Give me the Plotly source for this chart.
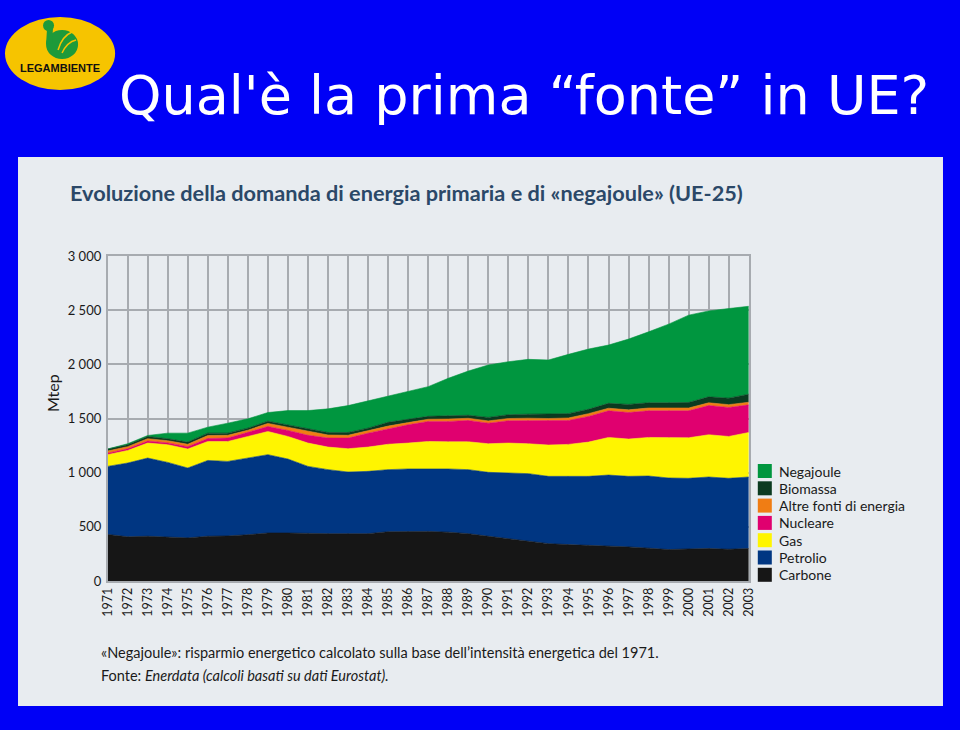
import plotly.graph_objects as go

W, H = 960, 730
# the rendered paper area is inset by ~8 px on every side; map pixel positions onto it
OX, OY = 8, 8
PW, PH = W - 2 * OX, H - 2 * OY

years = list(range(1971, 2004))
carbone = [430, 408, 413, 405, 398, 413, 416, 427, 443, 443, 437, 437, 437, 437, 455,
           458, 458, 451, 437, 413, 392, 367, 345, 336, 330, 327, 315, 303, 290, 296, 300, 293, 300]
petrolio = [628, 681, 722, 690, 645, 700, 688, 708, 723, 683, 621, 591, 569, 575, 573,
            576, 579, 583, 591, 590, 605, 624, 621, 633, 636, 651, 651, 666, 661, 652, 660, 655, 660]
gas = [108, 116, 138, 163, 175, 175, 184, 199, 214, 208, 215, 208, 215, 224, 234,
       239, 251, 251, 257, 264, 276, 276, 289, 292, 316, 347, 344, 356, 371, 374, 390, 386, 411]
nucleare = [14, 15, 19, 17, 22, 27, 32, 36, 46, 56, 72, 84, 98, 129, 143,
            169, 185, 188, 197, 190, 206, 215, 224, 221, 237, 246, 245, 246, 249, 249, 270, 268, 255]
altre = [20, 20, 22, 20, 22, 28, 25, 22, 29, 30, 35, 28, 26, 25, 25,
         20, 20, 22, 20, 21, 21, 21, 21, 23, 26, 24, 25, 26, 26, 26, 25, 26, 24]
biomassa = [18, 18, 20, 18, 20, 22, 20, 19, 20, 22, 25, 23, 26, 21, 35,
            28, 27, 30, 28, 32, 35, 37, 40, 40, 40, 45, 50, 48, 48, 51, 55, 60, 74]
negajoule = [0, 9, 9, 52, 83, 55, 92, 86, 80, 131, 168, 218, 248, 251, 240,
             258, 274, 346, 408, 484, 489, 506, 500, 547, 556, 538, 603, 655, 726, 806, 793, 827, 812]

series_names = ["Carbone", "Petrolio", "Gas", "Nucleare", "Altre fonti di energia", "Biomassa", "Negajoule"]
series_values = [carbone, petrolio, gas, nucleare, altre, biomassa, negajoule]
series_colors = ["#161616", "#003682", "#fff500", "#e0006f", "#f07d14", "#0b3a20", "#00963f"]

y_tickvals = [0, 500, 1000, 1500, 2000, 2500, 3000]
y_ticktext = ["0", "500", "1 000", "1 500", "2 000", "2 500", "3 000"]


def px(x):
    return (x - OX) / PW


def py(y):
    return 1 - (y - OY) / PH


fig = go.Figure()
for name, vals, col in zip(series_names, series_values, series_colors):
    fig.add_trace(go.Scatter(
        x=years, y=vals, name=name, stackgroup="one", mode="lines",
        line=dict(color=col, width=0.6), fillcolor=col, showlegend=False,
        hoverinfo="x+y+name"))

panel = "#e8ecf0"
grid = "#a7abb0"
logo_green = "#1e9a3a"
shapes = [
    dict(type="rect", xref="paper", yref="paper", x0=px(18), x1=px(942), y0=py(706), y1=py(157),
         fillcolor=panel, line=dict(width=0), layer="below"),
    # logo
    dict(type="circle", xref="paper", yref="paper", x0=px(5), x1=px(115), y0=py(90), y1=py(17),
         fillcolor="#f6c400", line=dict(width=0)),
    dict(type="circle", xref="paper", yref="paper", x0=px(46), x1=px(78), y0=py(59), y1=py(30),
         fillcolor=logo_green, line=dict(width=0)),
    dict(type="circle", xref="paper", yref="paper", x0=px(43), x1=px(54), y0=py(31), y1=py(20),
         fillcolor=logo_green, line=dict(width=0)),
    dict(type="path", xref="paper", yref="paper",
         path=f"M {px(47)},{py(28)} L {px(53)},{py(27)} L {px(52)},{py(44)} L {px(46)},{py(44)} Z",
         fillcolor=logo_green, line=dict(width=0)),
    dict(type="path", xref="paper", yref="paper",
         path=f"M {px(58)},{py(50)} Q {px(62)},{py(36)} {px(72)},{py(32)}",
         line=dict(color="#f6c400", width=1.5)),
    dict(type="path", xref="paper", yref="paper",
         path=f"M {px(62)},{py(53)} Q {px(67)},{py(42)} {px(76)},{py(40)}",
         line=dict(color="#f6c400", width=1.5)),
]

annotations = [
    dict(text="Qual'è la prima “fonte” in UE?", x=px(117), y=py(95), xref="paper", yref="paper",
         xanchor="left", yanchor="middle", showarrow=False,
         font=dict(family="DejaVu Sans", size=54, color="white")),
    dict(text="<b>LEGAMBIENTE</b>", x=px(60), y=py(68), xref="paper", yref="paper",
         xanchor="center", yanchor="middle", showarrow=False,
         font=dict(family="Liberation Sans", size=11, color="#111111")),
    dict(text="<b>Evoluzione della domanda di energia primaria e di «negajoule» (UE-25)</b>",
         x=px(68), y=py(193), xref="paper", yref="paper", xanchor="left", yanchor="middle",
         showarrow=False, font=dict(family="Lato", size=21.7, color="#2b4868")),
    dict(text="Mtep", x=px(52), y=py(393), xref="paper", yref="paper", xanchor="center", yanchor="middle",
         textangle=-90, showarrow=False, font=dict(family="Lato", size=16, color="#1a1a1a")),
    dict(text="«Negajoule»: risparmio energetico calcolato sulla base dell’intensità energetica del 1971.",
         x=px(99), y=py(652), xref="paper", yref="paper", xanchor="left", yanchor="middle",
         showarrow=False, font=dict(family="Lato", size=14.5, color="#1a1a1a")),
    dict(text="Fonte: <i>Enerdata (calcoli basati su dati Eurostat).</i>",
         x=px(99), y=py(675), xref="paper", yref="paper", xanchor="left", yanchor="middle",
         showarrow=False, font=dict(family="Lato", size=14.5, color="#1a1a1a")),
]

# manual legend (top to bottom: reversed stack order)
leg_top = 471
leg_step = 17.3
for i, (name, col) in enumerate(zip(series_names[::-1], series_colors[::-1])):
    yc = leg_top + i * leg_step
    shapes.append(dict(type="rect", xref="paper", yref="paper", x0=px(757), x1=px(771),
                       y0=py(yc + 7), y1=py(yc - 7), fillcolor=col, line=dict(width=0)))
    annotations.append(dict(text=name, x=px(776), y=py(yc), xref="paper", yref="paper",
                            xanchor="left", yanchor="middle", showarrow=False,
                            font=dict(family="Lato", size=14, color="#1a1a1a")))

fig.update_layout(
    width=W, height=H, margin=dict(l=0, r=0, t=0, b=0),
    paper_bgcolor="#0000f6", plot_bgcolor=panel,
    showlegend=False, shapes=shapes, annotations=annotations,
    xaxis=dict(domain=[px(107.5), px(748)], range=[1971, 2003], tickmode="array", tickvals=years,
               ticktext=[str(y) for y in years], tickangle=-90, showgrid=True, gridcolor=grid,
               gridwidth=1.5, showline=True, linecolor=grid, linewidth=1.5, mirror=True,
               zeroline=False, ticks="", ticklabelstandoff=0,
               tickfont=dict(family="Lato", size=12.5, color="#1a1a1a")),
    yaxis=dict(domain=[py(581), py(256)], range=[0, 3000], tickmode="array", tickvals=y_tickvals,
               ticktext=y_ticktext, showgrid=True, gridcolor=grid, gridwidth=1.5, showline=True,
               linecolor=grid, linewidth=1.5, mirror=True, zeroline=False, ticks="",
               ticklabelstandoff=2, tickfont=dict(family="Lato", size=13, color="#1a1a1a")),
)

fig.write_html("out.html")
